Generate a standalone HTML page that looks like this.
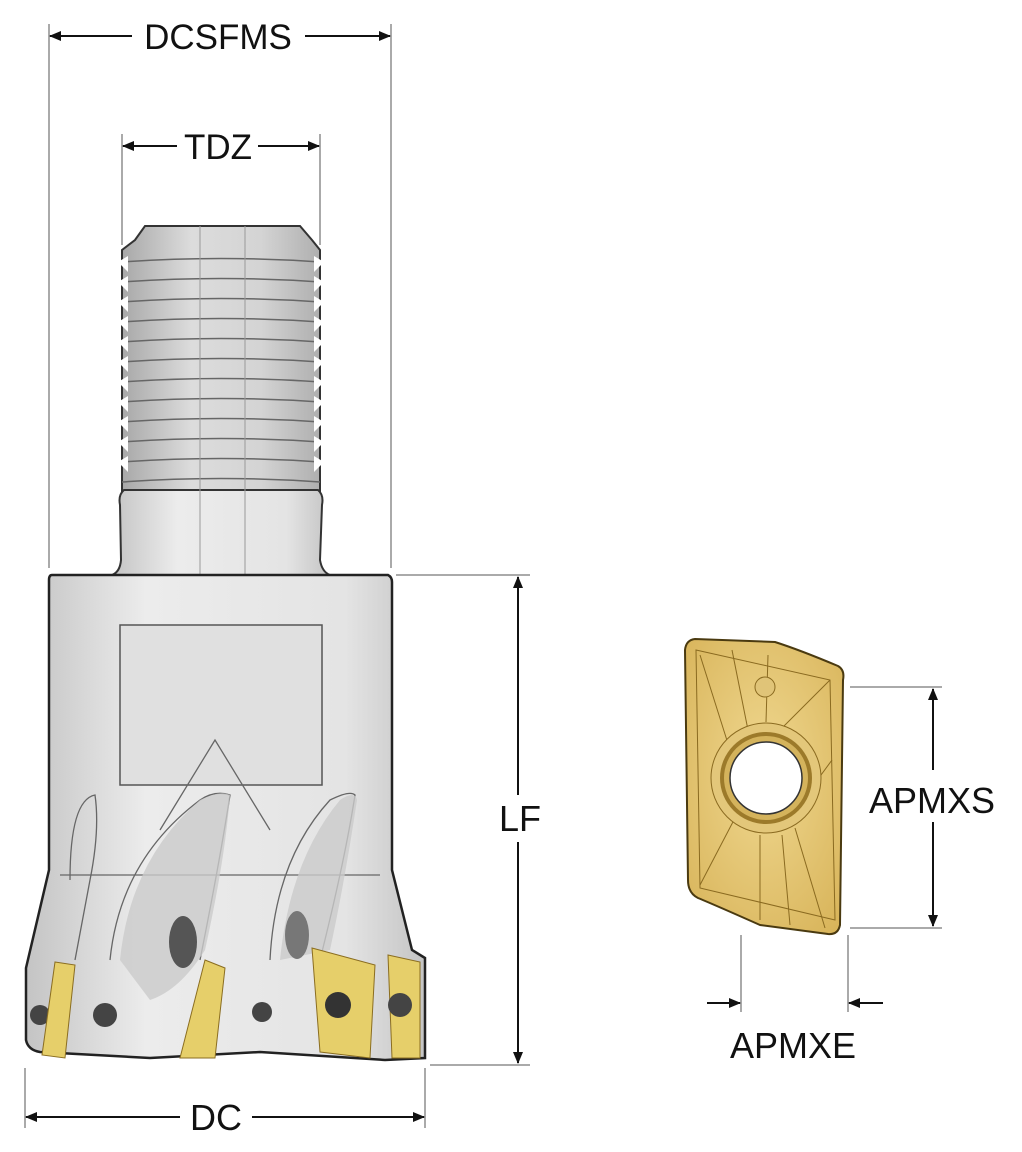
<!DOCTYPE html>
<html><head><meta charset="utf-8"><style>
html,body{margin:0;padding:0;background:#fff;}
svg{display:block;}
text{font-family:"Liberation Sans",sans-serif;fill:#111;}
</style></head><body>
<svg width="1022" height="1152" viewBox="0 0 1022 1152" xmlns="http://www.w3.org/2000/svg">
<defs>
<marker id="a" viewBox="0 0 12 10" refX="11" refY="5" markerWidth="12" markerHeight="10" orient="auto-start-reverse" markerUnits="userSpaceOnUse"><path d="M0,0 L12,5 L0,10 z" fill="#111"/></marker>
<linearGradient id="g1" x1="0" x2="1"><stop offset="0" stop-color="#a8a8a8"/><stop offset="0.35" stop-color="#dcdcdc"/><stop offset="0.7" stop-color="#d4d4d4"/><stop offset="1" stop-color="#afafaf"/></linearGradient>
<linearGradient id="g2" x1="0" x2="1"><stop offset="0" stop-color="#c4c4c4"/><stop offset="0.3" stop-color="#ececec"/><stop offset="0.8" stop-color="#e4e4e4"/><stop offset="1" stop-color="#c4c4c4"/></linearGradient>
<radialGradient id="gold" cx="0.5" cy="0.45" r="0.7"><stop offset="0" stop-color="#f0d890"/><stop offset="1" stop-color="#d8b45a"/></radialGradient>
</defs>

<line x1="49" y1="24" x2="49" y2="568" stroke="#555" stroke-width="1"/>
<line x1="391" y1="24" x2="391" y2="568" stroke="#555" stroke-width="1"/>
<line x1="50" y1="36" x2="132" y2="36" stroke="#111" stroke-width="2" marker-start="url(#a)"/>
<line x1="305" y1="36" x2="390" y2="36" stroke="#111" stroke-width="2" marker-end="url(#a)"/>
<text x="218" y="49" font-size="35" text-anchor="middle">DCSFMS</text>

<line x1="122" y1="134" x2="122" y2="245" stroke="#555"/>
<line x1="320" y1="134" x2="320" y2="245" stroke="#555"/>
<line x1="123" y1="146" x2="177" y2="146" stroke="#111" stroke-width="2" marker-start="url(#a)"/>
<line x1="258" y1="146" x2="319" y2="146" stroke="#111" stroke-width="2" marker-end="url(#a)"/>
<text x="218" y="159" font-size="35" text-anchor="middle">TDZ</text>

<path d="M135,240 L145,226 L300,226 L312,240 L320,250 L320,500 L122,500 L122,250 Z" fill="url(#g1)" stroke="#333" stroke-width="2"/>
<g stroke="#666" stroke-width="1.5" fill="none">
<path d="M122,262 Q221,255 320,262"/><path d="M122,282 Q221,275 320,282"/><path d="M122,302 Q221,295 320,302"/>
<path d="M122,322 Q221,315 320,322"/><path d="M122,342 Q221,335 320,342"/><path d="M122,362 Q221,355 320,362"/>
<path d="M122,382 Q221,375 320,382"/><path d="M122,402 Q221,395 320,402"/><path d="M122,422 Q221,415 320,422"/>
<path d="M122,442 Q221,435 320,442"/><path d="M122,462 Q221,455 320,462"/><path d="M122,482 Q221,475 320,482"/>
</g>
<g fill="#fff">
<path d="M118,262 l10,-6 l0,16 z"/><path d="M118,282 l10,-6 l0,16 z"/><path d="M118,302 l10,-6 l0,16 z"/><path d="M118,322 l10,-6 l0,16 z"/><path d="M118,342 l10,-6 l0,16 z"/><path d="M118,362 l10,-6 l0,16 z"/><path d="M118,382 l10,-6 l0,16 z"/><path d="M118,402 l10,-6 l0,16 z"/><path d="M118,422 l10,-6 l0,16 z"/><path d="M118,442 l10,-6 l0,16 z"/><path d="M118,462 l10,-6 l0,16 z"/>
<path d="M324,262 l-10,-6 l0,16 z"/><path d="M324,282 l-10,-6 l0,16 z"/><path d="M324,302 l-10,-6 l0,16 z"/><path d="M324,322 l-10,-6 l0,16 z"/><path d="M324,342 l-10,-6 l0,16 z"/><path d="M324,362 l-10,-6 l0,16 z"/><path d="M324,382 l-10,-6 l0,16 z"/><path d="M324,402 l-10,-6 l0,16 z"/><path d="M324,422 l-10,-6 l0,16 z"/><path d="M324,442 l-10,-6 l0,16 z"/><path d="M324,462 l-10,-6 l0,16 z"/>
</g>
<path d="M124,490 L318,490 Q324,495 322,505 L320,560 Q322,572 330,575 L112,575 Q120,572 121,560 L120,505 Q118,495 124,490 Z" fill="url(#g2)" stroke="#333" stroke-width="2"/>
<line x1="200" y1="226" x2="200" y2="1000" stroke="#999" stroke-width="1"/>
<line x1="245" y1="226" x2="245" y2="1000" stroke="#999" stroke-width="1"/>

<path d="M52,575 L388,575 Q392,577 392,582 L392,870 L412,950 L425,958 L425,1058 L385,1060 L260,1052 L150,1058 L40,1052 Q28,1050 26,1040 L26,968 L49,870 L49,580 Q49,575 52,575 Z" fill="url(#g2)" stroke="#222" stroke-width="2.5"/>
<rect x="120" y="625" width="202" height="160" fill="#e0e0e0" stroke="#555" stroke-width="1.5"/>
<g fill="none" stroke="#666" stroke-width="1.3">
<path d="M70,880 Q70,800 95,795 Q100,830 90,880 L75,960"/>
<path d="M110,960 Q120,860 200,800 Q215,790 230,795 Q220,860 200,960"/>
<path d="M270,960 Q275,860 330,800 Q350,790 355,795 Q345,860 320,960"/>
<line x1="60" y1="875" x2="380" y2="875"/>
<path d="M160,830 L215,740 L270,830"/>
</g>
<path d="M120,960 Q130,860 200,800 Q220,790 230,795 Q225,860 205,950 Q180,990 150,1000 Z" fill="#cbcbcb" opacity="0.8"/>
<path d="M280,960 Q290,860 340,800 Q355,790 357,800 Q345,880 330,950 Z" fill="#cbcbcb" opacity="0.8"/>
<ellipse cx="183" cy="942" rx="14" ry="26" fill="#555"/>
<ellipse cx="297" cy="935" rx="12" ry="24" fill="#777"/>
<g fill="#444">
<circle cx="40" cy="1015" r="10"/><circle cx="105" cy="1015" r="12"/><circle cx="262" cy="1012" r="10"/>
</g>
<g fill="#e6cf6a" stroke="#8a6d20" stroke-width="1">
<path d="M55,962 L75,965 L65,1058 L42,1055 Z"/>
<path d="M205,960 L225,968 L215,1058 L180,1058 Z"/>
<path d="M312,948 L375,965 L370,1058 L320,1052 Z"/>
<path d="M388,955 L420,962 L420,1058 L392,1058 Z"/>
</g>
<circle cx="338" cy="1005" r="13" fill="#333"/><circle cx="400" cy="1005" r="12" fill="#444"/>

<line x1="396" y1="575" x2="530" y2="575" stroke="#555"/>
<line x1="430" y1="1065" x2="530" y2="1065" stroke="#555"/>
<line x1="518" y1="577" x2="518" y2="795" stroke="#111" stroke-width="2" marker-start="url(#a)"/>
<line x1="518" y1="842" x2="518" y2="1063" stroke="#111" stroke-width="2" marker-end="url(#a)"/>
<text x="520" y="831" font-size="36" text-anchor="middle">LF</text>

<line x1="25" y1="1068" x2="25" y2="1128" stroke="#555"/>
<line x1="425" y1="1068" x2="425" y2="1128" stroke="#555"/>
<line x1="26" y1="1117" x2="180" y2="1117" stroke="#111" stroke-width="2" marker-start="url(#a)"/>
<line x1="252" y1="1117" x2="424" y2="1117" stroke="#111" stroke-width="2" marker-end="url(#a)"/>
<text x="216" y="1130" font-size="36" text-anchor="middle">DC</text>

<path d="M695,639 L775,642 Q800,650 838,666 Q845,670 843,680 L840,925 Q838,935 828,934 L760,925 Q715,905 698,898 Q688,893 688,880 L685,650 Q686,640 695,639 Z" fill="url(#gold)" stroke="#4a3a10" stroke-width="2"/>
<g stroke="#8a6a20" stroke-width="1" fill="none">
<path d="M696,650 L830,680 L835,920 L700,888 Z"/>
<line x1="700" y1="655" x2="730" y2="750"/><line x1="732" y1="650" x2="748" y2="730"/><line x1="768" y1="655" x2="766" y2="722"/>
<line x1="830" y1="680" x2="780" y2="730"/><line x1="832" y1="760" x2="810" y2="790"/>
<line x1="700" y1="885" x2="735" y2="818"/><line x1="760" y1="920" x2="760" y2="835"/><line x1="790" y1="925" x2="782" y2="835"/><line x1="825" y1="928" x2="795" y2="828"/>
</g>
<circle cx="765" cy="687" r="10" fill="#e0c478" stroke="#8a6a20"/>
<circle cx="766" cy="778" r="55" fill="#e3c77a" stroke="#8a6a20"/>
<circle cx="766" cy="778" r="46" fill="#9c7a2a"/>
<circle cx="766" cy="778" r="42" fill="#d4b35c"/>
<circle cx="766" cy="778" r="36" fill="#fff" stroke="#333" stroke-width="1.5"/>

<line x1="850" y1="687" x2="942" y2="687" stroke="#555"/>
<line x1="850" y1="928" x2="942" y2="928" stroke="#555"/>
<line x1="933" y1="689" x2="933" y2="770" stroke="#111" stroke-width="2" marker-start="url(#a)"/>
<line x1="933" y1="822" x2="933" y2="926" stroke="#111" stroke-width="2" marker-end="url(#a)"/>
<text x="932" y="813" font-size="36" text-anchor="middle">APMXS</text>

<line x1="741" y1="935" x2="741" y2="1012" stroke="#555"/>
<line x1="848" y1="935" x2="848" y2="1012" stroke="#555"/>
<line x1="707" y1="1003" x2="740" y2="1003" stroke="#111" stroke-width="2" marker-end="url(#a)"/>
<line x1="883" y1="1003" x2="849" y2="1003" stroke="#111" stroke-width="2" marker-end="url(#a)"/>
<text x="793" y="1058" font-size="36" text-anchor="middle">APMXE</text>
</svg>
</body></html>
